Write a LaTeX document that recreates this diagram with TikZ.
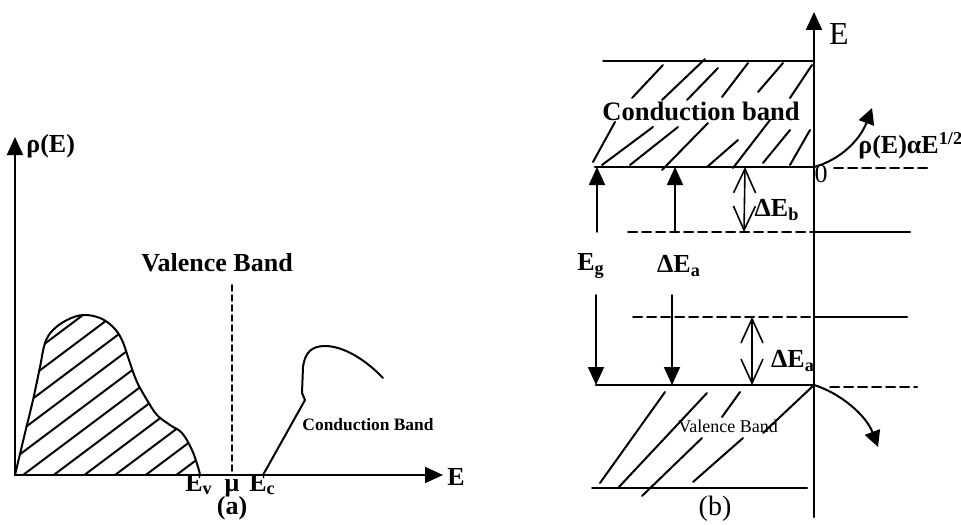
\documentclass[tikz,border=0pt]{standalone}
\usepackage{fontspec}
\setmainfont{Liberation Serif}
\usetikzlibrary{arrows.meta}

\begin{document}
\begin{tikzpicture}[
  x=0.5pt,
  y=-0.5pt,
  line join=round,
  line cap=round,
  axisline/.style={line width=1pt,-{Triangle[length=9pt,width=8pt]}},
  bandline/.style={line width=1pt},
  bandedge/.style={line width=1.4pt},
  levelline/.style={line width=1pt,dash pattern=on 4.5pt off 2.5pt},
  muline/.style={line width=0.9pt,dash pattern=on 3pt off 2pt},
  hatch/.style={line width=1pt},
  gaparrow/.style={line width=0.9pt,-{Triangle[length=9pt,width=8pt]}},
  splitarrow/.style={line width=0.8pt,{Straight Barb[length=12pt,width=11pt]}-{Straight Barb[length=12pt,width=11pt]}},
  dosarrow/.style={line width=1pt,-{Triangle[length=8pt,width=8pt]}},
  lbl/.style={font=\fontsize{13}{15}\selectfont\bfseries,inner sep=1pt},
  smalllbl/.style={font=\fontsize{8.7}{10}\selectfont\bfseries,inner sep=1pt},
  thinlbl/.style={font=\fontsize{9}{11}\selectfont,inner sep=1pt}
]
  \useasboundingbox (0,0) rectangle (961,524);

  % ---------------- (a) density of states ----------------
  \coordinate (aO) at (15,475);
  \coordinate (aYtip) at (15,137);
  \coordinate (aXtip) at (443,475);
  \coordinate (muTop) at (232,285);
  \coordinate (muBot) at (232,475);
  \coordinate (EcA) at (263,475);

  % Hatched valence band lobe.
  \begin{scope}
    \clip plot[smooth,tension=0.6] coordinates {(15,475) (25,433) (33,400) (40,367)
      (45,343) (53,330) (67,320) (83,315) (100,318) (113,327) (122,340) (130,363)
      (137,382) (147,400) (157,415) (170,425) (182,433) (192,450) (198,467) (200,475)} -- cycle;
    \foreach \c in {320,343,...,620} {
      \draw[hatch] (15,\c) -- (215,\c-150);
    }
  \end{scope}
  \draw[bandline] plot[smooth,tension=0.6] coordinates {(15,475) (25,433) (33,400) (40,367)
      (45,343) (53,330) (67,320) (83,315) (100,318) (113,327) (122,340) (130,363)
      (137,382) (147,400) (157,415) (170,425) (182,433) (192,450) (198,467) (200,475)};

  % Conduction band edge.
  \draw[bandline] (EcA) -- (305,400) -- (302,393) -- (303,367)
    .. controls (305,352) and (312,346) .. (325,346)
    .. controls (345,346) and (368,362) .. (383,378);

  \draw[muline] (muTop) -- (muBot);
  \draw[axisline] (aO) -- (aYtip);
  \draw[axisline] (aO) -- (aXtip);

  \node[lbl,anchor=west] (rhoA) at (24,146) {ρ(E)};
  \node[lbl] (Ea) at (456,477) {E};
  \node[lbl] (vbA) at (217,263) {Valence Band};
  \node[smalllbl] (cbA) at (368,425) {Conduction Band};
  \node[lbl,anchor=base west] (Ev) at (183,491) {E\textsubscript{v}};
  \node[lbl,anchor=base] (mu) at (232,491) {μ};
  \node[lbl,anchor=base west] (Ec) at (247,491) {E\textsubscript{c}};
  \node[lbl] (capA) at (232,508) {(a)};

  % ---------------- (b) band diagram ----------------
  \coordinate (bO) at (814,517);
  \coordinate (bTop) at (814,12);
  \coordinate (cbEdge) at (814,167);
  \coordinate (vbEdge) at (814,385);
  \draw[axisline] (bO) -- (bTop);
  \node[font=\fontsize{16}{18}\selectfont,inner sep=1pt] (Eb) at (839,34) {E};

  % Conduction band.
  \draw[bandline] (603,61) -- (814,61);
  \draw[bandedge] (595,167) -- (cbEdge);
  \draw[levelline] (834,168) -- (928,168);
  \foreach \xa/\ya/\xb/\yb in {663/65/632/98, 705/59/662/100, 718/68/687/100, 748/63/722/97,
                     783/63/758/92, 812/65/790/98, 615/122/593/162, 653/127/602/165,
                     678/127/630/165, 708/123/662/170, 738/140/707/167, 770/120/733/168,
                     790/130/763/163, 810/130/790/165} {
    \draw[hatch] (\xa,\ya) -- (\xb,\yb);
  }
  \node[lbl,font=\fontsize{13.3}{15}\selectfont\bfseries] (cbB) at (701,111) {Conduction band};
  \node[lbl] (zero) at (821,174) {\mdseries 0};

  % Impurity levels.
  \coordinate (donL) at (628,232);
  \coordinate (donM) at (814,232);
  \coordinate (accL) at (633,317);
  \coordinate (accM) at (814,317);
  \draw[levelline] (donL) -- (donM);
  \draw[bandline] (donM) -- (910,232);
  \draw[levelline] (accL) -- (accM);
  \draw[bandline] (accM) -- (907,317);

  % Valence band.
  \draw[bandedge] (596,385) -- (vbEdge);
  \draw[levelline] (830,387) -- (917,387);
  \draw[bandline] (592,488) -- (807,488);
  \foreach \xa/\ya/\xb/\yb in {600/483/665/392, 618/488/707/393, 642/496/702/438,
                     693/482/743/438, 722/417/740/392} {
    \draw[hatch] (\xa,\ya) -- (\xb,\yb);
  }
  \draw[bandline] (vbEdge) -- (763,433);
  \node[thinlbl] (vbB) at (728,426) {Valence Band};

  % Gap arrows.
  \coordinate (egTop) at (597,232);
  \coordinate (egBot) at (596,295);
  \coordinate (eaTop) at (675,232);
  \coordinate (eaBot) at (672,295);
  \draw[gaparrow] (egTop) -- (597,167);
  \draw[gaparrow] (egBot) -- (596,385);
  \draw[gaparrow] (eaTop) -- (675,167);
  \draw[gaparrow] (eaBot) -- (672,385);
  \node[lbl] (Eg) at (591,266) {E\textsubscript{g}};
  \node[lbl] (dEa) at (679,266) {ΔE\textsubscript{a}};

  \draw[splitarrow] (744,232) -- (745,167);
  \node[lbl] (dEb) at (777,210) {ΔE\textsubscript{b}};
  \draw[splitarrow] (752,317) -- (752,385);
  \node[lbl] (dEa2) at (793,361) {ΔE\textsubscript{a}};

  % Density-of-states arrows.
  \draw[dosarrow] (cbEdge) .. controls (840,160) and (860,140) .. (872,108);
  \node[lbl,anchor=west] (dos) at (856,146) {ρ(E)αE\textsuperscript{1/2}};
  \draw[dosarrow] (vbEdge) .. controls (840,393) and (866,415) .. (878,447);

  \node[font=\fontsize{14}{16}\selectfont,inner sep=1pt] (capB) at (715,509) {(b)};
\end{tikzpicture}
\end{document}
